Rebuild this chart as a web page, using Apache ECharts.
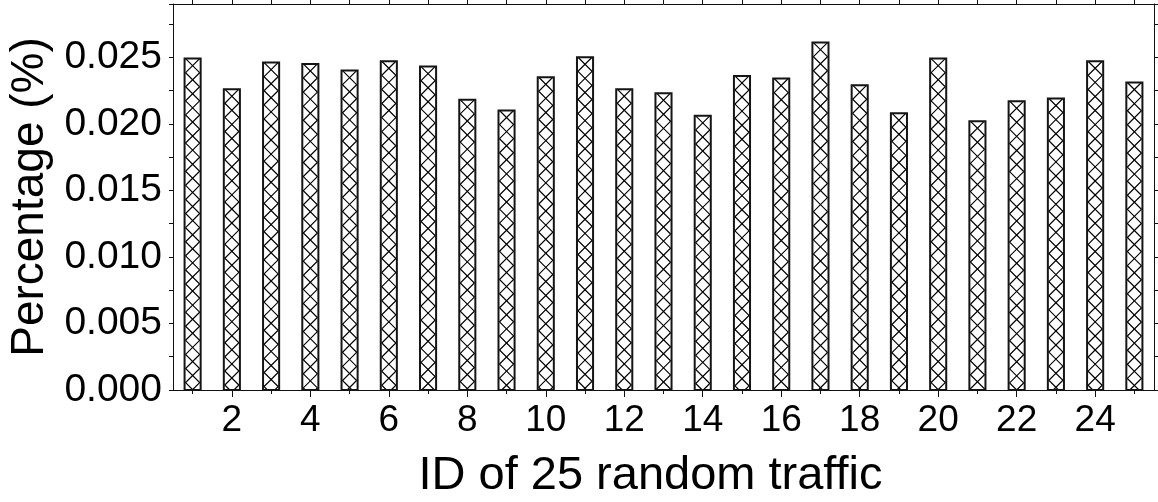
<!DOCTYPE html>
<html>
<head>
<meta charset="utf-8">
<script src="https://cdn.jsdelivr.net/npm/echarts@6/dist/echarts.min.js"></script>
<style>
  html, body { margin: 0; padding: 0; background: #fff; }
  #chart { width: 1158px; height: 502px; }
</style>
</head>
<body>
<div id="chart"></div>
<script>
// Traffic IDs and their share of total traffic
const trafficIds = ['1','2','3','4','5','6','7','8','9','10','11','12','13','14','15','16','17','18','19','20','21','22','23','24','25'];
const percentages = [0.0249, 0.0226, 0.0246, 0.0245, 0.0240, 0.0247, 0.0243, 0.0218, 0.0210, 0.0235,
                     0.0250, 0.0226, 0.0223, 0.0206, 0.0236, 0.0234, 0.0261, 0.0229, 0.0208, 0.0249,
                     0.0202, 0.0217, 0.0219, 0.0247, 0.0231];
const yMin = 0, yMax = 0.029, yStep = 0.005;
const xTitle = 'ID of 25 random traffic';
const yTitle = 'Percentage (%)';

const FONT = "'Liberation Sans', Arial, Helvetica, sans-serif";
const INK = '#000';

const chart = echarts.init(document.getElementById('chart'), null, { renderer: 'canvas' });

// Bar with white fill, dark frame and a cross-hatched (X) pattern drawn per bar
function renderHatchedBar(params, api) {
  const idx = api.value(0);
  const v = api.value(1);
  const top = api.coord([idx, v]);
  const base = api.coord([idx, 0]);
  const bw = api.size([1, 0])[0] * 0.41;
  const x0 = top[0] - bw / 2, x1 = top[0] + bw / 2;
  const y0 = top[1], y1 = base[1];
  const ix0 = x0 + 1, ix1 = x1 - 1;
  const cell = ix1 - ix0;
  const zigA = [], zigB = [];
  let y = y0, k = 0;
  zigA.push([ix0, y0]); zigB.push([ix1, y0]);
  while (y < y1) {
    const ny = Math.min(y + cell, y1);
    const t = (ny - y) / cell;
    const fromA = k % 2 === 0 ? ix0 : ix1;
    const toA = k % 2 === 0 ? ix1 : ix0;
    zigA.push([fromA + (toA - fromA) * t, ny]);
    zigB.push([toA + (fromA - toA) * t, ny]);
    y = ny; k++;
  }
  return {
    type: 'group',
    children: [
      { type: 'rect', shape: { x: x0, y: y0, width: bw, height: y1 - y0 },
        style: { fill: '#fff', stroke: 'none' } },
      { type: 'polyline', shape: { points: zigA }, style: { fill: null, stroke: INK, lineWidth: 1.2 } },
      { type: 'polyline', shape: { points: zigB }, style: { fill: null, stroke: INK, lineWidth: 1.2 } },
      { type: 'rect', shape: { x: x0, y: y0, width: bw, height: y1 - y0 },
        style: { fill: null, stroke: '#151515', lineWidth: 2 } }
    ]
  };
}

const axisLineStyle = { color: '#111', width: 1 };

chart.setOption({
  animation: false,
  backgroundColor: '#fff',
  textStyle: { fontFamily: FONT },
  grid: { left: 173, right: 4, top: 4, bottom: 112, containLabel: false, outerBoundsMode: 'none' },
  xAxis: [
    {
      type: 'category', data: trafficIds, position: 'bottom',
      boundaryGap: true,
      axisLine: { show: true, lineStyle: axisLineStyle },
      axisTick: { show: true, alignWithLabel: true, interval: 0, length: 4, inside: false, lineStyle: axisLineStyle },
      axisLabel: { show: true, interval: (i) => i % 2 === 1, margin: 12, fontSize: 37, color: '#000', fontFamily: FONT },
      splitLine: { show: false },
      name: xTitle, nameLocation: 'middle', nameGap: 63,
      nameTextStyle: { fontSize: 47, color: '#000', fontFamily: FONT, padding: [0, 26, 0, 0] }
    },
    {
      // longer ticks at the labelled (even) IDs
      type: 'category', data: trafficIds, position: 'bottom', gridIndex: 0,
      boundaryGap: true,
      axisLine: { show: false },
      axisTick: { show: true, alignWithLabel: true, interval: (i) => i % 2 === 1, length: 7, lineStyle: axisLineStyle },
      axisLabel: { show: false },
      splitLine: { show: false }
    },
    {
      type: 'category', data: trafficIds, position: 'top',
      boundaryGap: true,
      axisLine: { show: true, lineStyle: axisLineStyle },
      axisTick: { show: true, alignWithLabel: true, interval: 0, length: 4, lineStyle: axisLineStyle },
      axisLabel: { show: false },
      splitLine: { show: false }
    }
  ],
  yAxis: [
    {
      type: 'value', min: yMin, max: yMax, interval: yStep, position: 'left',
      axisLine: { show: true, lineStyle: axisLineStyle },
      axisTick: { show: true, length: 4, lineStyle: axisLineStyle },
      minorTick: { show: true, splitNumber: 2, length: 4, lineStyle: axisLineStyle },
      axisLabel: { show: true, showMaxLabel: false, margin: 11, fontSize: 39, color: '#000', fontFamily: FONT,
                   formatter: (v) => v.toFixed(3) },
      splitLine: { show: false },
      name: yTitle, nameLocation: 'middle', nameGap: 120,
      nameTextStyle: { fontSize: 46, color: '#000', fontFamily: FONT }
    },
    {
      type: 'value', min: yMin, max: yMax, interval: yStep, position: 'right',
      axisLine: { show: true, lineStyle: axisLineStyle },
      axisTick: { show: true, length: 4, lineStyle: axisLineStyle },
      minorTick: { show: true, splitNumber: 2, length: 4, lineStyle: axisLineStyle },
      axisLabel: { show: false },
      splitLine: { show: false }
    }
  ],
  series: [
    {
      type: 'custom',
      xAxisIndex: 0, yAxisIndex: 0,
      renderItem: renderHatchedBar,
      encode: { x: 0, y: 1 },
      data: percentages.map((v, i) => [i, v]),
      clip: false
    }
  ]
});
</script>
</body>
</html>
